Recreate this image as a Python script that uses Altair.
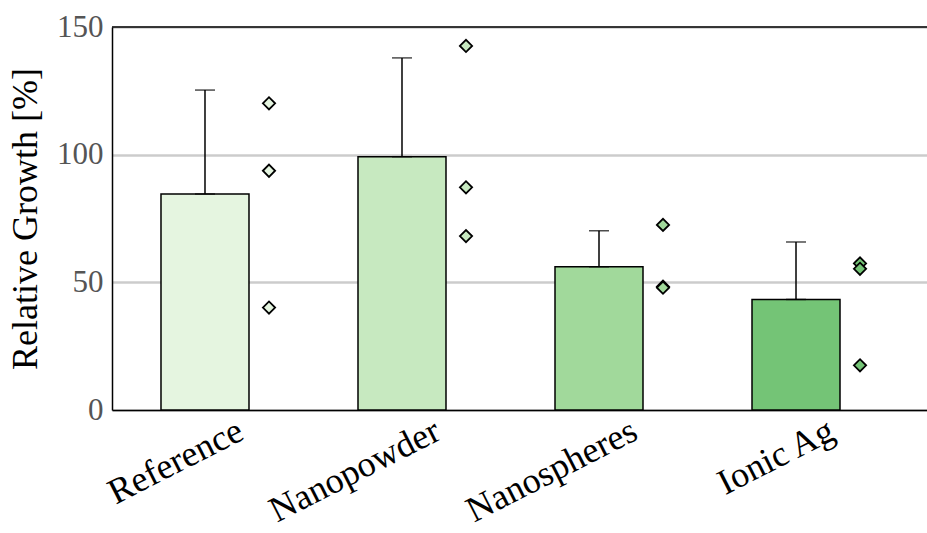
import altair as alt
import pandas as pd

# Group means, upper error (sample SD) and individual replicates
groups = ["Reference", "Nanopowder", "Nanospheres", "Ionic Ag"]
means = [84.6, 99.2, 56.1, 43.3]
sds = [40.7, 38.7, 14.1, 22.5]
colors = ["#e5f5e0", "#c7e9c0", "#a1d99b", "#74c476"]

point_groups = ["Reference"] * 3 + ["Nanopowder"] * 3 + ["Nanospheres"] * 3 + ["Ionic Ag"] * 3
point_values = [120.1, 93.7, 40.1,
                142.6, 87.2, 68.1,
                72.5, 48.3, 47.9,
                57.4, 55.3, 17.5]

y_ticks = [0, 50, 100, 150]

summary = pd.DataFrame({"group": groups, "mean": means, "sd": sds})
summary["upper"] = summary["mean"] + summary["sd"]
points = pd.DataFrame({"group": point_groups, "value": point_values})

FONT = "'Times New Roman', 'Liberation Serif', 'DejaVu Serif', serif"

x_scale = alt.Scale(paddingInner=0, paddingOuter=0.0685)
y_scale = alt.Scale(domain=[0, 150], nice=False)
x_enc = alt.X("group:N", sort=groups, scale=x_scale, title=None)
color_scale = alt.Scale(domain=groups, range=colors)

bars = alt.Chart(summary).mark_bar(width=88, xOffset=-19, stroke="black",
                                   strokeWidth=1.5).encode(
    x=x_enc,
    y=alt.Y("mean:Q", scale=y_scale, title="Relative Growth [%]",
            axis=alt.Axis(values=y_ticks)),
    color=alt.Color("group:N", scale=color_scale, legend=None))

err = alt.Chart(summary).mark_rule(xOffset=-19, color="black", strokeWidth=1.5).encode(
    x=x_enc, y=alt.Y("mean:Q", scale=y_scale), y2="upper:Q")

cap_top = alt.Chart(summary).mark_tick(xOffset=-19, color="black", size=20,
                                       thickness=1.5, orient="horizontal").encode(
    x=x_enc, y=alt.Y("upper:Q", scale=y_scale))
cap_low = alt.Chart(summary).mark_tick(xOffset=-19, color="black", size=20,
                                       thickness=1.5, orient="horizontal").encode(
    x=x_enc, y=alt.Y("mean:Q", scale=y_scale))

pts = alt.Chart(points).mark_point(shape="diamond", filled=True, size=150,
                                   xOffset=45, stroke="black", strokeWidth=1.8,
                                   opacity=1).encode(
    x=x_enc, y=alt.Y("value:Q", scale=y_scale),
    fill=alt.Fill("group:N", scale=color_scale, legend=None))

top_frame = alt.Chart(pd.DataFrame({"v": [150]})).mark_rule(
    color="black", strokeWidth=1.5).encode(y=alt.Y("v:Q", scale=y_scale))

chart = alt.layer(bars, err, cap_top, cap_low, pts, top_frame).properties(
    width=815, height=383,
    autosize=alt.AutoSizeParams(type="none"),
    padding={"left": 112, "top": 27, "right": 0, "bottom": 123},
    background="white",
).configure_view(
    stroke=None
).configure_axis(
    domainColor="black", domainWidth=1.5, ticks=False
).configure_axisX(
    labelAngle=-27, labelAlign="right", labelBaseline="top", labelFontSize=36,
    labelColor="black", labelFont=FONT, labelPadding=3, labelOffset=9,
    labelLimit=400, grid=False
).configure_axisY(
    titleFontSize=36, titleFont=FONT, titleFontWeight="normal",
    titleColor="black", titlePadding=12, labelFontSize=31, labelFont=FONT,
    labelColor="#555555", labelPadding=9, grid=True, gridColor="#cccccc",
    gridWidth=2.5
)

chart.save("out.html", embed_options={"renderer": "svg", "actions": False})
